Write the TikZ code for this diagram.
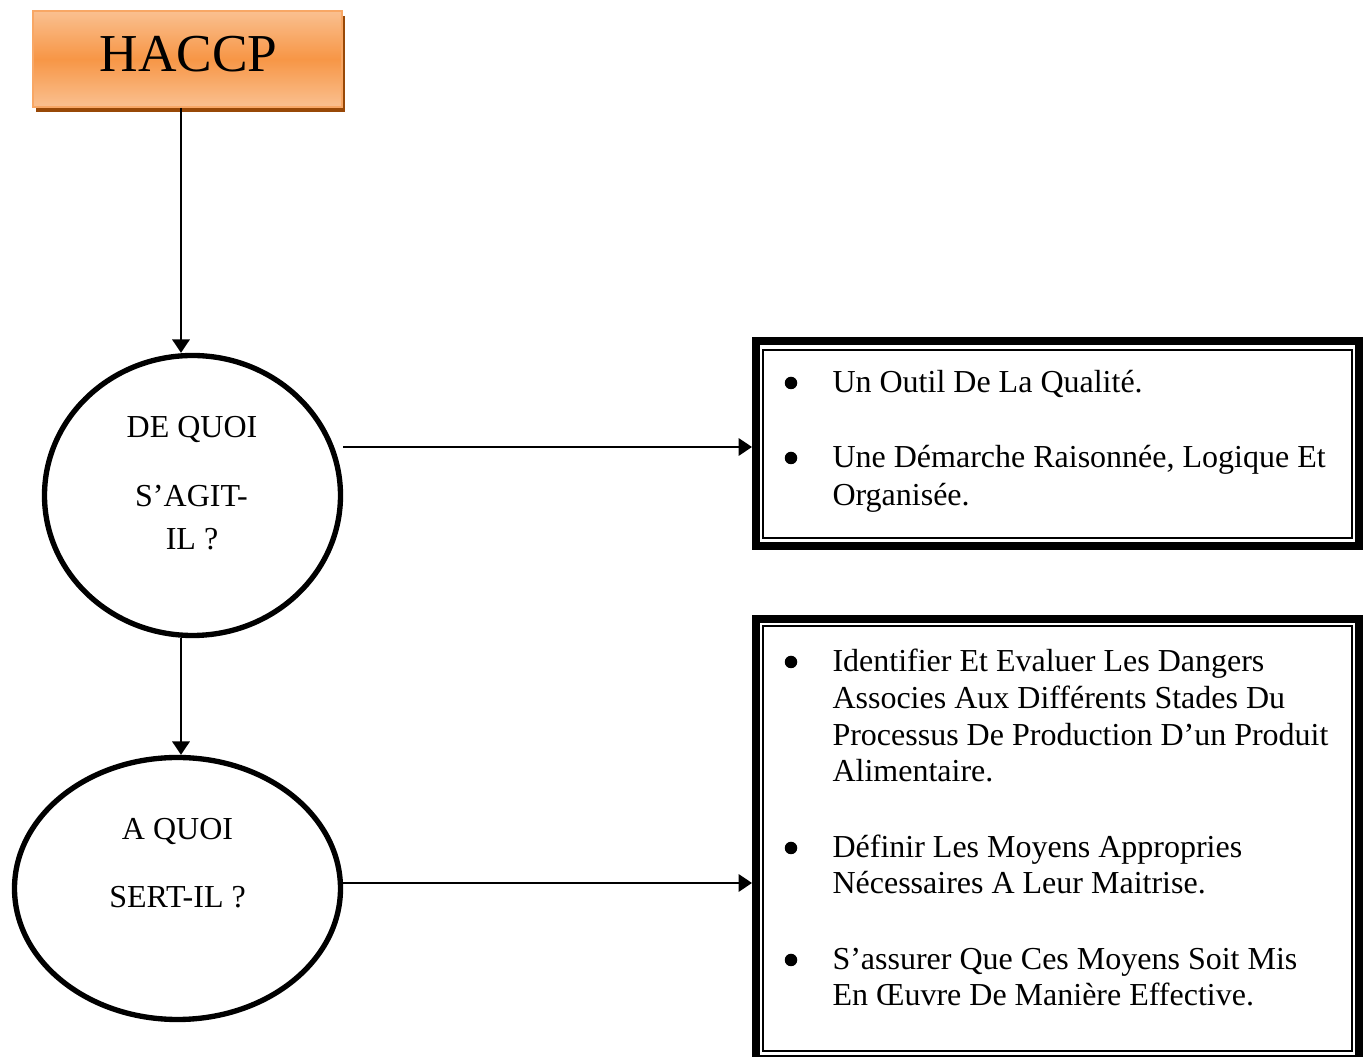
\documentclass[tikz,border=0pt]{standalone}
\usepackage{fontspec}
\setmainfont{Liberation Serif}
\usetikzlibrary{arrows.meta,shapes.geometric,shadows}
\def\pxu{0.375pt}
\definecolor{orA}{HTML}{F79646}
\definecolor{orL}{HTML}{FAC090}
\definecolor{orB}{HTML}{F8A765}
\definecolor{orD}{HTML}{984807}
\begin{document}
\begin{tikzpicture}[x=\pxu,y=-\pxu,
  arr/.style={line width=0.8pt,-{Triangle[length=5pt,width=6.5pt]}},
  bubble/.style={ellipse,draw,line width=2pt,inner sep=0pt},
  txt/.style={font=\fontsize{12}{14}\selectfont,inner sep=0pt,anchor=base},
  ltxt/.style={txt,anchor=base west},
  boxthick/.style={draw,line width=3pt,inner sep=0pt,minimum width=603*\pxu},
  boxthin/.style={draw,line width=0.75pt},
  dot/.style={circle,fill,inner sep=0pt,minimum size=12.5*\pxu},
  titlebox/.style={draw=orB,line width=0.75pt,top color=orL,bottom color=orL,middle color=orA,
    minimum width=309*\pxu,minimum height=96*\pxu,inner sep=0pt,
    drop shadow={shadow xshift=3*\pxu,shadow yshift=-5*\pxu,fill=orD,opacity=1}}
]
\useasboundingbox (0,0) rectangle (1363,1057);

% title
\node[titlebox] (haccp) at (187.5,59) {};
\node[inner sep=0pt,anchor=base,font=\fontsize{20}{24}\selectfont] (haccpt) at (188.5,72) {HACCP};

% bubbles
\node[bubble,minimum width=296*\pxu,minimum height=280*\pxu] (c1) at (192.5,495.5) {};
\node[txt] (c1a) at (192,438) {DE QUOI};
\node[txt] (c1b) at (191.5,507) {S’AGIT-};
\node[txt] (c1c) at (192,550) {IL ?};

\node[bubble,minimum width=326*\pxu,minimum height=262*\pxu] (c2) at (177.5,888.5) {};
\node[txt] (c2a) at (177.5,840) {A QUOI};
\node[txt] (c2b) at (177.5,908) {SERT-IL ?};

% boxes
\node[boxthick,minimum height=205*\pxu] (b1) at (1057.5,443.5) {};
\draw[boxthin] ([shift={(11,13)}]b1.north west) rectangle ([shift={(-11,-12)}]b1.south east);
\node[boxthick,minimum height=440*\pxu] (b2) at (1057.5,839) {};
\draw[boxthin] ([shift={(11,11)}]b2.north west) rectangle ([shift={(-11,-12)}]b2.south east);

% box 1 text
\node[dot] (d11) at (791,383) {};
\node[ltxt] (l11) at (832,393) {Un Outil De La Qualité.};
\node[dot] (d12) at (791,458) {};
\node[ltxt] (l12) at (832,468) {Une Démarche Raisonnée, Logique Et};
\node[ltxt] (l13) at (832,506) {Organisée.};

% box 2 text
\node[dot] (d21) at (791,662) {};
\node[ltxt] (l21) at (832,672) {Identifier Et Evaluer Les Dangers};
\node[ltxt] (l22) at (832,708.7) {Associes Aux Différents Stades Du};
\node[ltxt] (l23) at (832,745.3) {Processus De Production D’un Produit};
\node[ltxt] (l24) at (832,782) {Alimentaire.};
\node[dot] (d22) at (791,848) {};
\node[ltxt] (l25) at (832,858) {Définir Les Moyens Appropries};
\node[ltxt] (l26) at (832,894) {Nécessaires A Leur Maitrise.};
\node[dot] (d23) at (791,960) {};
\node[ltxt] (l27) at (832,970) {S’assurer Que Ces Moyens Soit Mis};
\node[ltxt] (l28) at (832,1006) {En Œuvre De Manière Effective.};

% connectors
\coordinate (v) at (181,0);
\coordinate (h1) at (0,447);
\coordinate (h2) at (0,883);
\draw[arr] (v |- haccp.south) -- (v |- c1.north);
\draw[arr] (v |- c1.south) -- (v |- c2.north);
\draw[arr] (c1.east |- h1) -- (b1.west |- h1);
\draw[arr] (c2.east |- h2) -- (b2.west |- h2);
\end{tikzpicture}
\end{document}
